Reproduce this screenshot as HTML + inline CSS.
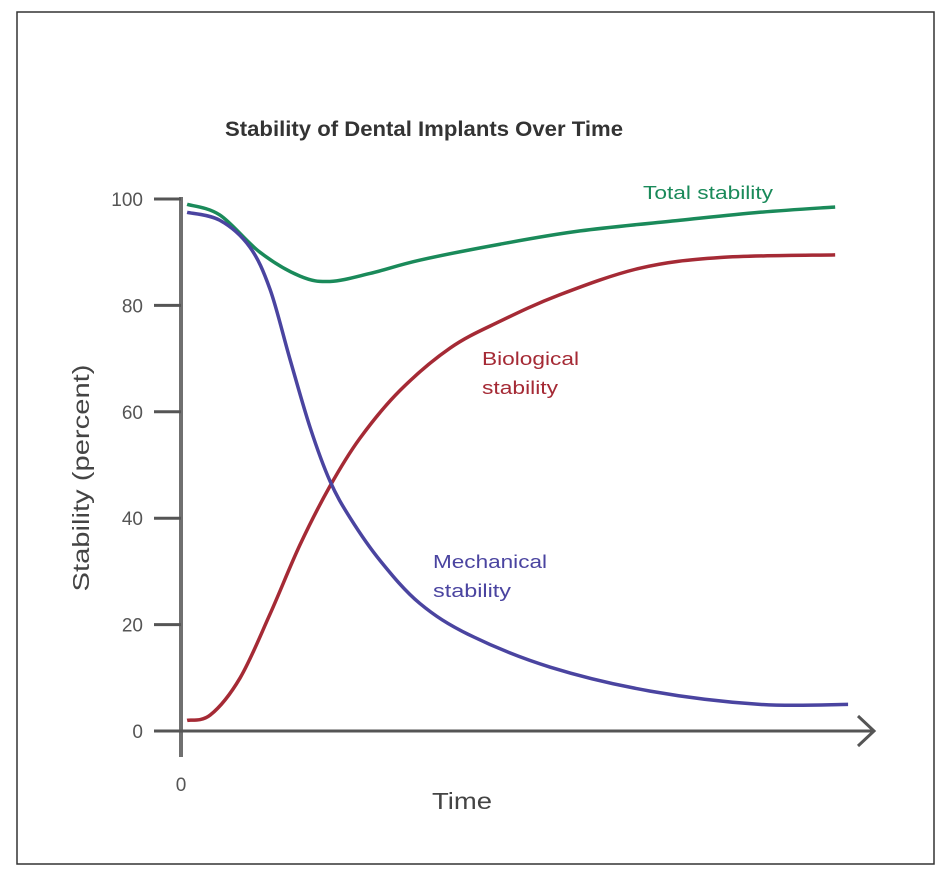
<!DOCTYPE html>
<html><head><meta charset="utf-8"><style>
body{margin:0;background:#fff}
svg{display:block;font-family:"Liberation Sans",sans-serif}
</style></head><body>
<svg width="950" height="887">
<rect x="17" y="12" width="917" height="852" fill="#fff" stroke="#333" stroke-width="1.5"/>
<text x="225" y="136" textLength="398" lengthAdjust="spacingAndGlyphs" font-size="21" font-weight="bold" fill="#333">Stability of Dental Implants Over Time</text>
<text transform="translate(89,478) rotate(-90)" text-anchor="middle" textLength="227" lengthAdjust="spacingAndGlyphs" font-size="23" fill="#444">Stability (percent)</text>
<text x="432" y="809" textLength="60" lengthAdjust="spacingAndGlyphs" font-size="23" fill="#444">Time</text>
<g id="axes"></g>
<g id="series"></g>
<text x="643" y="199" textLength="130" lengthAdjust="spacingAndGlyphs" font-size="18" fill="#1a8a5a">Total stability</text>
<text font-size="18" fill="#a52a35"><tspan x="482" y="365" textLength="97" lengthAdjust="spacingAndGlyphs">Biological</tspan><tspan x="482" y="394" textLength="76" lengthAdjust="spacingAndGlyphs">stability</tspan></text>
<text font-size="18" fill="#4a44a0"><tspan x="433" y="568" textLength="114" lengthAdjust="spacingAndGlyphs">Mechanical</tspan><tspan x="433" y="597" textLength="78" lengthAdjust="spacingAndGlyphs">stability</tspan></text>
</svg>
<script>
const yTicks=[0,20,40,60,80,100];
const totalT=[0.09,0.57,1.16,1.75,2.19,2.78,3.51,4.69,5.87,7.34,8.51,9.62];
const totalV=[99,97,90,85.5,84.5,86,88.5,91.5,94,96,97.5,98.5];
const mechT=[0.09,0.57,1.01,1.31,1.6,1.9,2.19,2.49,2.93,3.51,4.25,5.43,6.9,8.51,9.81];
const mechV=[97.5,96,91,83,70,57,47,40,32,24,18,12,7.5,5,5];
const bioT=[0.09,0.43,0.87,1.31,1.75,2.19,2.63,3.22,3.96,4.69,5.57,6.75,7.93,9.62];
const bioV=[2,3,10,22,35,46,55,64,72,77,82,87,89,89.5];
const NS='http://www.w3.org/2000/svg';
const X=t=>181+t*68, Y=v=>731-v*5.32;
function mk(tag,attrs,parent){const e=document.createElementNS(NS,tag);for(const k in attrs)e.setAttribute(k,attrs[k]);parent.appendChild(e);return e;}
const ax=document.getElementById('axes');
let e=mk('line',{x1:181,y1:197,x2:181,y2:757,stroke:'#707070','stroke-width':4},ax);


e=mk('path',{d:'M154 731 H872 M858 716 L874 731 L858 746',stroke:'#555',fill:'none','stroke-width':3},ax);


yTicks.forEach(v=>{
 let l=mk('line',{x1:154,x2:181,y1:Y(v),y2:Y(v),stroke:'#555','stroke-width':3},ax);
 
 
 let t=mk('text',{x:143,y:Y(v)+7,'text-anchor':'end','font-size':19,fill:'#555'},ax);
 t.textContent=v;
 
 
});
e=mk('text',{x:181,y:791,'text-anchor':'middle','font-size':19,fill:'#555'},ax);
e.textContent='0';


function path(ts,vs){const p=ts.map((t,i)=>[X(t),Y(vs[i])]);let d='M'+p[0][0]+' '+p[0][1];
 for(let i=0;i<p.length-1;i++){const p0=p[i-1]||p[i],p1=p[i],p2=p[i+1],p3=p[i+2]||p2;
  d+=` C${p1[0]+(p2[0]-p0[0])/6} ${p1[1]+(p2[1]-p0[1])/6} ${p2[0]-(p3[0]-p1[0])/6} ${p2[1]-(p3[1]-p1[1])/6} ${p2[0]} ${p2[1]}`;}
 return d;}
const sg=document.getElementById('series');
e=mk('path',{d:path(totalT,totalV),stroke:'#1a8a5a',fill:'none','stroke-width':3.5},sg);


e=mk('path',{d:path(bioT,bioV),stroke:'#a52a35',fill:'none','stroke-width':3.5},sg);


e=mk('path',{d:path(mechT,mechV),stroke:'#4a44a0',fill:'none','stroke-width':3.5},sg);


</script>
</body></html>
